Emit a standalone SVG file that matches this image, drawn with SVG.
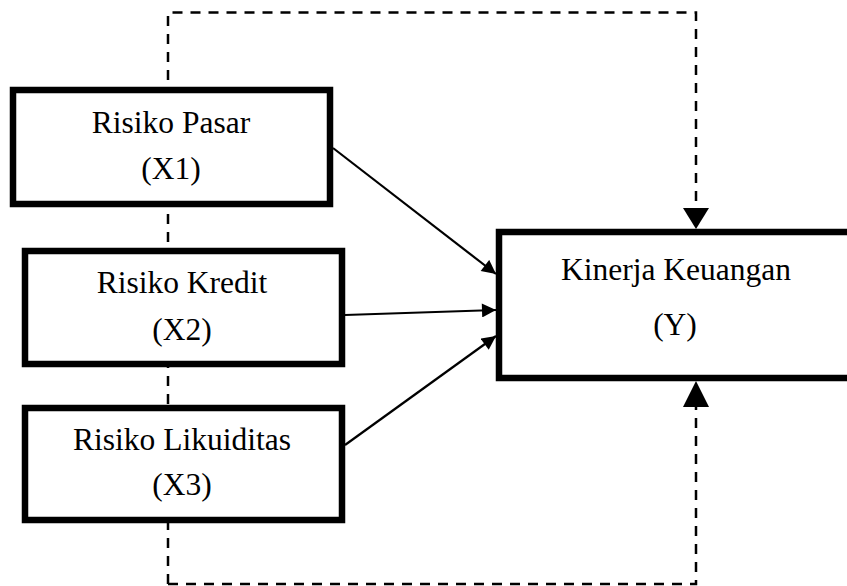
<svg xmlns="http://www.w3.org/2000/svg" width="847" height="586" viewBox="0 0 847 586">
<style>
.box{fill:#fff;stroke:#000;stroke-width:6.5}
.t{font-family:"Liberation Serif","Times New Roman",serif;font-size:31.5px;fill:#000;text-anchor:middle}
.dash{fill:none;stroke:#000;stroke-width:2.5;stroke-dasharray:10 8}
.arr{fill:none;stroke:#000;stroke-width:2.2}
.head{fill:#000}
</style>
<defs>
<marker id="ah" viewBox="0 0 10 10" refX="10" refY="5" markerWidth="15" markerHeight="14" markerUnits="userSpaceOnUse" orient="auto">
<path d="M0,0 L10,5 L0,10 z" class="head"/>
</marker>
</defs>
<rect width="847" height="586" fill="#fff"/>
<g id="connectors">
<path class="dash" d="M168,584 L168,12.5 L696,12.5 L696,210"/>
<path class="dash" d="M168,584 L696,584 L696,406"/>
<polygon class="head" points="683,208 709,208 696,229"/>
<polygon class="head" points="683,407 709,407 696,381"/>
</g>
<g id="node-x1">
<rect class="box" x="13" y="90" width="317" height="114"/>
<text class="t" x="171" y="133">Risiko Pasar</text>
<text class="t" x="171" y="179">(X1)</text>
</g>
<g id="node-x2">
<rect class="box" x="25" y="251" width="317" height="113"/>
<text class="t" x="182" y="293">Risiko Kredit</text>
<text class="t" x="182" y="340">(X2)</text>
</g>
<g id="node-x3">
<rect class="box" x="25" y="408" width="317" height="112"/>
<text class="t" x="182" y="450">Risiko Likuiditas</text>
<text class="t" x="182" y="495">(X3)</text>
</g>
<g id="node-y">
<rect class="box" x="499" y="232" width="360" height="146"/>
<text class="t" x="676" y="280">Kinerja Keuangan</text>
<text class="t" x="675" y="335">(Y)</text>
</g>
<g id="arrows">
<line class="arr" x1="333" y1="148" x2="496" y2="274" marker-end="url(#ah)"/>
<line class="arr" x1="345" y1="315" x2="496" y2="310" marker-end="url(#ah)"/>
<line class="arr" x1="345" y1="445" x2="496" y2="336" marker-end="url(#ah)"/>
</g>
</svg>
